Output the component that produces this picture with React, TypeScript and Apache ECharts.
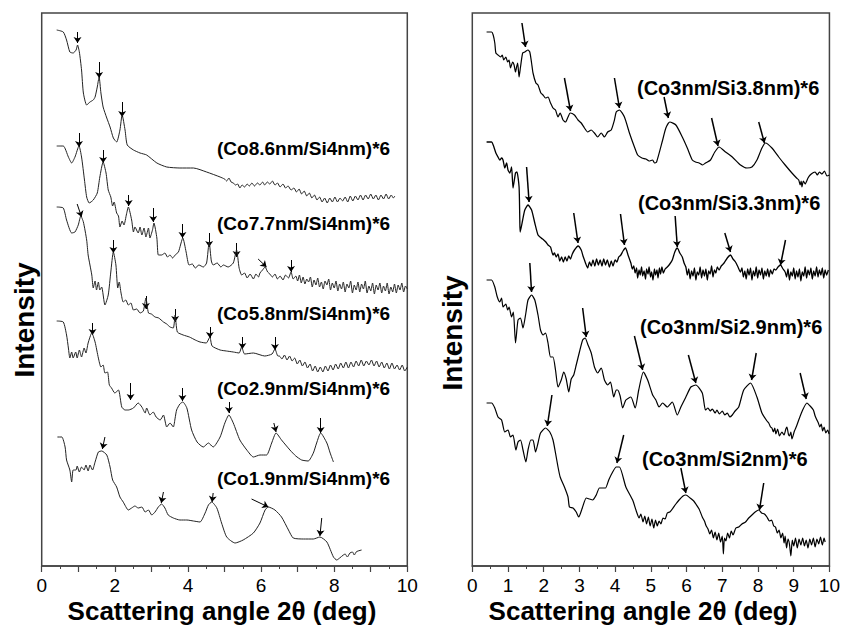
import React, { useEffect, useRef } from "react";
import * as echarts from "echarts";

const FONT = '"Liberation Sans", Arial, sans-serif';

// ---------- left panel: (CoX nm / Si4nm)*6 ----------
const leftLabels = [
  "(Co8.6nm/Si4nm)*6",
  "(Co7.7nm/Si4nm)*6",
  "(Co5.8nm/Si4nm)*6",
  "(Co2.9nm/Si4nm)*6",
  "(Co1.9nm/Si4nm)*6",
];

const co86 = [
  [0.41,536],[0.59,534],[0.68,526],[0.77,514],[0.86,513],[0.94,516],[0.98,521],[1.03,514],[1.09,496],[1.14,473],
  [1.23,461],[1.32,464],[1.41,466],[1.46,469],[1.52,479],[1.57,489],[1.62,473],[1.68,459],[1.78,448],[1.87,439],
  [1.96,428],[2.05,424],[2.14,436],[2.2,451],[2.28,436],[2.34,421],[2.51,416],[2.69,413],[2.87,411],[3.15,403],
  [3.42,399],[3.78,398],[4.15,398],[4.51,394],[4.88,389],[5.0,387],[5.06,385],[5.12,388],[5.18,384],[5.24,383],
  [5.3,381],[5.36,382],[5.42,378],[5.48,381],[5.55,379],[5.62,382],[5.68,380],[5.75,383],[5.82,380],[5.9,383],
  [5.97,381],[6.04,384],[6.1,381],[6.17,384],[6.24,382],[6.31,385],[6.38,381],[6.45,383],[6.52,379],[6.6,382],
  [6.67,378],[6.74,380],[6.82,376],[6.9,378],[6.97,374],[7.04,377],[7.11,372],[7.18,375],[7.25,370],[7.32,373],
  [7.39,368],[7.46,371],[7.53,366],[7.6,369],[7.67,364],[7.74,368],[7.81,363],[7.88,368],[7.95,364],[8.02,369],
  [8.09,364],[8.16,368],[8.23,365],[8.3,369],[8.37,364],[8.44,370],[8.51,365],[8.58,370],[8.65,366],[8.72,371],
  [8.79,366],[8.86,371],[8.93,367],[9.0,372],[9.07,367],[9.14,371],[9.21,366],[9.28,371],[9.35,367],[9.42,372],
  [9.49,367],[9.56,371],[9.62,368],[9.66,370],
];

const co77 = [
  [0.41,420],[0.59,420],[0.73,409],[0.82,403],[0.91,409],[1.02,420],[1.09,409],[1.17,386],[1.23,369],[1.3,363],
  [1.41,366],[1.52,373],[1.59,389],[1.68,404],[1.76,393],[1.82,376],[1.89,369],[1.94,360],[1.98,364],[2.05,353],
  [2.1,350],[2.14,339],[2.2,345],[2.25,341],[2.32,352],[2.37,359],[2.46,346],[2.51,334],[2.55,339],[2.64,333],
  [2.69,339],[2.74,331],[2.8,338],[2.85,329],[2.92,338],[2.96,328],[3.03,336],[3.07,343],[3.15,328],[3.19,311],
  [3.28,311],[3.37,313],[3.44,309],[3.51,311],[3.58,308],[3.65,311],[3.74,314],[3.86,328],[3.95,314],[4.03,301],
  [4.12,302],[4.2,298],[4.3,301],[4.42,299],[4.51,303],[4.58,324],[4.64,305],[4.69,301],[4.8,303],[4.9,299],
  [4.97,301],[5.1,299],[5.24,303],[5.33,316],[5.4,298],[5.47,291],[5.55,293],[5.62,288],[5.7,292],[5.79,287],
  [5.86,292],[5.93,289],[5.97,293],[6.04,296],[6.11,299],[6.18,294],[6.24,292],[6.31,289],[6.38,292],[6.45,287],
  [6.52,290],[6.6,286],[6.67,291],[6.75,288],[6.82,294],[6.88,287],[6.95,290],[7.0,285],[7.05,291],[7.1,283],
  [7.15,289],[7.2,282],[7.25,287],[7.3,284],[7.35,289],[7.4,279],[7.45,286],[7.5,281],[7.55,288],[7.6,279],
  [7.65,284],[7.7,277],[7.75,285],[7.8,281],[7.85,287],[7.9,276],[7.95,283],[8.0,278],[8.05,285],[8.1,275],
  [8.15,282],[8.2,277],[8.25,284],[8.3,274],[8.35,282],[8.4,278],[8.45,285],[8.5,273],[8.55,281],[8.6,276],
  [8.65,284],[8.7,274],[8.75,282],[8.8,277],[8.85,285],[8.9,273],[8.95,280],[9.0,275],[9.05,283],[9.1,272],
  [9.15,281],[9.2,276],[9.25,283],[9.3,273],[9.35,280],[9.4,275],[9.45,283],[9.5,272],[9.55,279],[9.6,274],
  [9.65,282],[9.7,273],[9.75,281],[9.8,276],[9.85,283],[9.9,274],[9.95,280],[10.0,277],
];

const co58 = [
  [0.41,359],[0.59,358],[0.68,346],[0.82,333],[0.91,334],[1.0,341],[1.07,350],[1.14,344],[1.23,326],[1.27,311],
  [1.32,301],[1.37,291],[1.41,278],[1.46,285],[1.5,276],[1.55,284],[1.59,276],[1.64,279],[1.73,261],[1.82,271],
  [1.89,294],[1.96,314],[2.03,301],[2.08,278],[2.12,284],[2.17,273],[2.23,264],[2.3,266],[2.37,261],[2.44,263],
  [2.51,256],[2.6,257],[2.69,253],[2.78,255],[2.85,268],[2.92,253],[3.0,252],[3.1,249],[3.2,248],[3.33,244],
  [3.42,242],[3.51,239],[3.6,238],[3.65,251],[3.71,234],[3.87,231],[4.04,229],[4.2,226],[4.33,224],[4.5,223],
  [4.6,229],[4.66,220],[4.88,216],[5.05,215],[5.24,214],[5.4,213],[5.47,219],[5.55,212],[5.79,213],[6.1,210],
  [6.3,212],[6.38,217],[6.46,210],[6.5,210],[6.57,207],[6.64,211],[6.71,206],[6.78,210],[6.85,205],[6.92,208],
  [6.99,202],[7.06,206],[7.13,200],[7.2,204],[7.27,198],[7.34,202],[7.41,195],[7.48,200],[7.55,194],[7.62,199],
  [7.69,194],[7.76,200],[7.83,195],[7.9,201],[7.97,196],[8.04,202],[8.11,197],[8.18,203],[8.25,198],[8.32,204],
  [8.39,198],[8.46,204],[8.53,199],[8.6,205],[8.67,200],[8.74,206],[8.81,200],[8.88,205],[8.95,201],[9.02,206],
  [9.09,200],[9.16,205],[9.23,199],[9.3,204],[9.37,198],[9.44,203],[9.51,197],[9.58,203],[9.65,197],[9.72,201],
  [9.79,196],[9.86,201],[9.93,195],[10.0,199],
];

const co29 = [
  [0.41,245],[0.59,244],[0.68,231],[0.73,218],[0.77,208],[0.82,214],[0.86,208],[0.93,214],[0.97,208],[1.03,216],
  [1.09,209],[1.16,218],[1.21,213],[1.27,223],[1.37,233],[1.46,224],[1.55,208],[1.62,199],[1.68,201],[1.73,193],
  [1.8,194],[1.85,181],[1.91,178],[2.0,173],[2.1,176],[2.19,159],[2.28,156],[2.37,156],[2.51,158],[2.64,163],
  [2.74,159],[2.83,153],[2.87,158],[2.96,151],[3.05,154],[3.13,149],[3.24,146],[3.33,151],[3.42,139],[3.51,143],
  [3.6,139],[3.65,148],[3.69,156],[3.78,162],[3.86,164],[3.97,158],[4.1,136],[4.25,124],[4.42,119],[4.56,123],
  [4.69,119],[4.88,129],[5.01,143],[5.12,151],[5.24,143],[5.42,126],[5.61,116],[5.79,109],[5.97,111],[6.15,111],
  [6.29,123],[6.41,133],[6.56,126],[6.79,116],[6.95,110],[7.11,106],[7.29,105],[7.43,113],[7.52,123],[7.63,133],
  [7.8,123],[7.89,113],[7.98,104],
];

const co19 = [
  [0.43,129],[0.55,129],[0.64,119],[0.68,106],[0.77,96],[0.82,84],[0.86,96],[0.94,96],[0.97,100],[1.03,94],
  [1.09,99],[1.16,96],[1.21,101],[1.27,95],[1.32,101],[1.39,96],[1.46,104],[1.55,114],[1.64,115],[1.78,111],
  [1.87,99],[1.94,86],[2.05,79],[2.14,69],[2.23,64],[2.37,56],[2.46,58],[2.55,60],[2.64,58],[2.74,59],
  [2.83,54],[2.92,56],[3.01,51],[3.1,54],[3.19,59],[3.28,62],[3.37,58],[3.46,51],[3.6,48],[3.78,46],
  [3.97,46],[4.15,45],[4.33,44],[4.47,53],[4.56,61],[4.65,64],[4.79,58],[4.92,43],[5.06,29],[5.29,23],
  [5.51,26],[5.79,33],[5.97,43],[6.11,56],[6.2,59],[6.38,56],[6.56,49],[6.75,36],[6.88,28],[7.16,27],
  [7.43,27],[7.61,29],[7.8,24],[7.98,9],[8.07,6],[8.15,8],[8.25,11],[8.3,12],[8.36,9],[8.43,13],
  [8.5,14],[8.55,11],[8.6,14],[8.65,15],[8.75,16],
];

// arrows: [xTail, yTail, xTip, yTip]
const leftArrows = [
  [0.98,534,0.98,523],[1.57,504,1.57,488],[2.2,464,2.2,449],
  [1.02,433,1.02,419],[1.68,416,1.68,403],[2.38,371,2.38,360],[3.05,358,3.05,344],[3.85,342,3.85,328],
  [4.58,333,4.58,319],[5.33,323,5.33,309],[5.92,307,6.15,299],[6.82,306,6.82,294],
  [0.97,362,1.09,349],[1.96,326,1.96,313],[2.85,270,2.85,257],[3.65,257,3.65,244],[4.6,239,4.6,228],
  [5.49,229,5.49,217],[6.38,229,6.38,216],
  [1.39,243,1.39,231],[2.43,183,2.43,166],[3.85,178,3.85,165],[5.12,164,5.12,153],[6.35,143,6.41,134],
  [7.63,148,7.63,133],
  [1.73,129,1.66,117],[3.33,74,3.27,63],[4.69,73,4.66,64],[5.74,67,6.2,59],[7.66,48,7.61,30],
];

// ---------- right panel: (Co3nm / SiX nm)*6 ----------
const rightLabels = [
  "(Co3nm/Si3.8nm)*6",
  "(Co3nm/Si3.3nm)*6",
  "(Co3nm/Si2.9nm)*6",
  "(Co3nm/Si2nm)*6",
];

const si38 = [
  [0.4,534],[0.54,534],[0.585,531],[0.63,523],[0.66,513],[0.72,511],[0.79,509],[0.84,511],[0.88,506],[0.94,509],
  [0.99,504],[1.03,506],[1.07,498],[1.13,504],[1.17,501],[1.21,494],[1.24,499],[1.27,503],[1.31,489],[1.35,499],
  [1.41,513],[1.47,514],[1.56,516],[1.61,514],[1.66,503],[1.7,493],[1.78,483],[1.84,481],[1.92,473],[1.98,471],
  [2.05,468],[2.12,469],[2.19,463],[2.26,458],[2.33,456],[2.4,449],[2.46,453],[2.54,446],[2.61,444],[2.68,449],
  [2.74,453],[2.86,451],[2.96,446],[3.05,443],[3.14,438],[3.23,434],[3.33,436],[3.42,433],[3.51,429],[3.61,433],
  [3.7,429],[3.79,434],[3.89,436],[3.98,446],[4.03,454],[4.12,456],[4.26,449],[4.4,433],[4.54,419],[4.63,411],
  [4.75,408],[4.86,407],[4.95,405],[5.05,406],[5.1,403],[5.16,404],[5.33,426],[5.42,438],[5.53,444],[5.7,441],
  [5.88,429],[6.02,418],[6.16,406],[6.25,404],[6.35,403],[6.45,401],[6.53,403],[6.67,406],[6.79,414],[6.91,419],
  [7.09,414],[7.28,409],[7.51,401],[7.69,398],[7.83,399],[7.97,406],[8.11,418],[8.21,423],[8.39,418],[8.58,409],
  [8.76,401],[8.95,393],[9.08,388],[9.14,386],[9.18,381],[9.21,385],[9.23,379],[9.27,385],[9.32,382],[9.4,388],
  [9.46,391],[9.53,393],[9.6,394],[9.66,391],[9.72,394],[9.79,392],[9.86,395],[9.93,390],[10.0,391],
];

const si33 = [
  [0.4,424],[0.54,424],[0.585,421],[0.66,413],[0.72,409],[0.77,406],[0.82,408],[0.86,406],[0.91,398],[0.96,403],
  [1.0,396],[1.05,393],[1.1,399],[1.14,378],[1.21,393],[1.25,394],[1.31,379],[1.33,346],[1.34,334],[1.41,346],
  [1.47,356],[1.56,361],[1.66,356],[1.75,343],[1.84,331],[1.93,328],[2.0,326],[2.06,324],[2.12,321],[2.19,319],
  [2.26,311],[2.3,313],[2.35,309],[2.4,312],[2.45,305],[2.5,309],[2.55,304],[2.6,309],[2.65,305],[2.7,310],
  [2.75,307],[2.8,312],[2.86,316],[2.96,320],[3.05,316],[3.1,310],[3.14,306],[3.18,302],[3.23,298],[3.28,304],
  [3.33,300],[3.38,306],[3.43,300],[3.48,307],[3.53,301],[3.58,306],[3.63,300],[3.68,307],[3.73,301],[3.78,306],
  [3.84,299],[3.89,305],[3.94,300],[4.0,306],[4.05,304],[4.1,309],[4.16,311],[4.22,315],[4.29,318],[4.36,311],
  [4.44,303],[4.48,297],[4.52,300],[4.56,293],[4.6,298],[4.63,288],[4.67,296],[4.7,291],[4.74,299],[4.77,290],
  [4.81,295],[4.85,287],[4.88,297],[4.92,292],[4.95,299],[4.99,289],[5.02,294],[5.06,286],[5.1,297],[5.13,291],
  [5.17,296],[5.2,288],[5.24,298],[5.27,292],[5.31,299],[5.35,293],[5.4,297],[5.46,299],[5.53,302],[5.6,306],
  [5.67,314],[5.74,318],[5.81,313],[5.88,309],[5.93,303],[5.98,299],[6.02,291],[6.06,297],[6.1,287],[6.14,295],
  [6.18,290],[6.22,298],[6.26,286],[6.3,294],[6.34,291],[6.38,299],[6.42,288],[6.46,296],[6.5,290],[6.54,297],
  [6.58,286],[6.62,295],[6.66,292],[6.7,300],[6.74,289],[6.78,296],[6.82,293],[6.86,299],[6.91,296],[6.97,300],
  [7.05,303],[7.14,308],[7.23,311],[7.3,307],[7.37,304],[7.44,299],[7.51,294],[7.55,298],[7.59,289],[7.63,295],
  [7.67,287],[7.71,297],[7.75,291],[7.79,298],[7.83,286],[7.87,295],[7.91,290],[7.95,299],[7.99,288],[8.03,296],
  [8.07,291],[8.11,298],[8.15,287],[8.19,295],[8.23,290],[8.27,297],[8.31,289],[8.35,296],[8.4,292],[8.45,297],
  [8.5,296],[8.56,299],[8.63,301],[8.7,297],[8.76,294],[8.8,289],[8.84,297],[8.88,286],[8.92,294],[8.96,290],
  [9.0,298],[9.04,287],[9.08,295],[9.12,289],[9.16,297],[9.2,285],[9.24,294],[9.28,290],[9.32,299],[9.36,288],
  [9.4,296],[9.44,291],[9.48,298],[9.52,287],[9.56,295],[9.6,290],[9.64,299],[9.68,289],[9.72,296],[9.76,291],
  [9.8,298],[9.84,288],[9.88,296],[9.92,291],[9.97,296],
];

const si29 = [
  [0.4,286],[0.54,286],[0.63,279],[0.7,269],[0.77,264],[0.82,268],[0.86,259],[0.94,262],[0.99,256],[1.03,259],
  [1.1,249],[1.15,254],[1.21,223],[1.28,246],[1.35,248],[1.42,238],[1.5,253],[1.56,266],[1.66,271],[1.75,266],
  [1.84,251],[1.91,236],[1.98,231],[2.05,233],[2.12,223],[2.19,209],[2.26,209],[2.33,196],[2.4,179],[2.49,186],
  [2.56,194],[2.63,187],[2.7,174],[2.77,187],[2.84,191],[2.91,201],[3.0,214],[3.09,226],[3.16,228],[3.23,222],
  [3.33,213],[3.42,199],[3.51,193],[3.61,198],[3.7,186],[3.79,181],[3.87,184],[3.96,169],[4.03,176],[4.07,176],
  [4.14,170],[4.21,158],[4.3,166],[4.44,169],[4.56,158],[4.66,176],[4.79,194],[4.91,186],[5.05,171],[5.14,166],
  [5.23,159],[5.33,163],[5.46,159],[5.6,164],[5.74,151],[5.84,159],[5.98,169],[6.12,179],[6.26,181],[6.44,173],
  [6.53,156],[6.6,158],[6.66,155],[6.72,157],[6.8,153],[6.85,156],[6.92,152],[7.0,155],[7.07,151],[7.14,153],
  [7.21,149],[7.28,151],[7.36,155],[7.46,159],[7.6,176],[7.79,183],[7.97,169],[8.11,153],[8.25,145],[8.3,143],
  [8.35,139],[8.39,138],[8.43,134],[8.47,138],[8.5,132],[8.55,137],[8.6,130],[8.67,134],[8.73,131],[8.78,137],
  [8.81,139],[8.85,132],[8.88,130],[8.92,134],[8.95,127],[9.02,135],[9.08,140],[9.14,146],[9.25,156],[9.37,163],
  [9.46,160],[9.55,156],[9.6,150],[9.65,146],[9.69,143],[9.73,139],[9.77,142],[9.81,135],[9.85,139],[9.9,133],
  [9.95,136],[9.99,132],
];

const si20 = [
  [0.4,163],[0.54,163],[0.63,158],[0.72,149],[0.82,146],[0.91,134],[1.0,136],[1.07,129],[1.14,131],[1.22,116],
  [1.28,124],[1.35,126],[1.42,116],[1.5,104],[1.56,116],[1.64,126],[1.7,126],[1.77,114],[1.84,123],[1.91,133],
  [2.05,138],[2.17,134],[2.26,126],[2.33,113],[2.4,99],[2.46,89],[2.58,79],[2.68,69],[2.72,59],[2.82,58],
  [2.91,54],[2.98,49],[3.08,58],[3.19,68],[3.28,67],[3.37,66],[3.47,71],[3.56,78],[3.65,78],[3.73,78],
  [3.82,86],[3.93,94],[4.03,99],[4.12,99],[4.3,79],[4.49,66],[4.6,54],[4.67,48],[4.72,52],[4.78,44],
  [4.83,50],[4.88,42],[4.93,49],[4.98,40],[5.03,47],[5.08,38],[5.13,46],[5.18,40],[5.23,45],[5.28,42],
  [5.34,48],[5.4,47],[5.46,53],[5.53,54],[5.6,57],[5.7,62],[5.79,66],[5.9,70],[5.98,71],[6.1,68],
  [6.2,65],[6.26,62],[6.35,57],[6.44,49],[6.5,45],[6.55,40],[6.6,37],[6.65,32],[6.7,36],[6.75,28],
  [6.8,34],[6.85,26],[6.9,33],[6.95,24],[7.0,30],[7.03,12],[7.06,28],[7.1,25],[7.15,33],[7.2,28],
  [7.25,35],[7.3,31],[7.38,38],[7.46,39],[7.55,42],[7.65,44],[7.74,48],[7.83,51],[7.92,54],[8.02,56],
  [8.1,53],[8.18,52],[8.25,49],[8.32,45],[8.38,46],[8.44,40],[8.49,39],[8.54,33],[8.59,36],[8.64,28],
  [8.69,33],[8.73,23],[8.76,30],[8.8,18],[8.84,27],[8.88,22],[8.92,10],[8.96,26],[9.0,20],[9.05,28],
  [9.1,18],[9.15,27],[9.2,21],[9.25,28],[9.3,20],[9.35,26],[9.4,18],[9.45,27],[9.5,21],[9.55,28],
  [9.6,19],[9.65,27],[9.7,22],[9.75,29],[9.8,21],[9.85,28],[9.88,24],
];

const rightArrows = [
  [1.39,543,1.49,519],[2.58,488,2.75,455],[3.98,488,4.12,458],[5.37,469,5.49,448],[6.7,448,6.88,420],[8.02,444,8.18,423],
  [1.52,399,1.59,364],[2.84,353,2.96,323],[4.15,352,4.26,321],[5.68,350,5.74,319],[7.07,333,7.23,314],[8.77,326,8.63,301],
  [1.61,303,1.66,274],[3.09,258,3.19,229],[4.54,230,4.77,196],[6.05,211,6.26,183],[7.95,213,7.82,186],[9.18,193,9.35,167],
  [2.23,171,2.1,140],[4.24,131,4.05,103],[5.84,98,5.98,73],[8.16,83,8.04,56],
];

// positions of the curve labels (pixels) - layout only
const leftLabelPos = [[217,148],[217,223],[217,313],[217,388],[217,478]];
const rightLabelPos = [[637,88],[638,203],[640,327],[642,459]];

export default function App() {
  const ref = useRef<HTMLDivElement>(null);
  useEffect(() => {
    if (!ref.current) return;
    const chart = echarts.init(ref.current, null, { renderer: "svg" });
    const axisColor = "#444";
    const makeX = (gridIndex: number, every: number) => ({
      gridIndex,
      type: "value",
      min: 0,
      max: 10,
      interval: 1,
      axisLine: { show: true, onZero: false, lineStyle: { color: axisColor, width: 1.5 } },
      axisTick: { show: true, length: 6, lineStyle: { color: axisColor, width: 1.2 } },
      minorTick: { show: true, splitNumber: 2, length: 3, lineStyle: { color: axisColor, width: 1 } },
      splitLine: { show: false },
      minorSplitLine: { show: false },
      axisLabel: {
        fontSize: 19,
        color: "#000",
        fontFamily: FONT,
        margin: 10,
        formatter: (v: number) => (v % every === 0 ? String(v) : ""),
      },
    });
    const makeY = (gridIndex: number) => ({
      gridIndex,
      type: "value",
      min: 0,
      max: 553,
      show: false,
    });
    const curve = (data: number[][], idx: number, color: string, width: number) => ({
      type: "line",
      xAxisIndex: idx,
      yAxisIndex: idx,
      data,
      showSymbol: false,
      symbol: "none",
      smooth: 0.2,
      lineStyle: { color, width },
      silent: true,
    });
    const arrows = (list: number[][], idx: number, width: number, size: number) => ({
      type: "lines",
      coordinateSystem: "cartesian2d",
      xAxisIndex: idx,
      yAxisIndex: idx,
      symbol: ["none", "arrow"],
      symbolSize: size,
      lineStyle: { color: "#000", width, opacity: 1, curveness: 0 },
      data: list.map((a) => ({ coords: [[a[0], a[1]], [a[2], a[3]]] })),
      silent: true,
    });
    const labelText = (text: string, pos: number[], size: number) => ({
      type: "text",
      x: pos[0],
      y: pos[1],
      style: {
        text,
        fill: "#000",
        font: `bold ${size}px ${FONT}`,
        textAlign: "left",
        textVerticalAlign: "middle",
      },
    });
    const option = {
      animation: false,
      backgroundColor: "#fff",
      grid: [
        { left: 41.7, top: 13, width: 365.6, height: 553, show: true, borderColor: axisColor, borderWidth: 1.5, backgroundColor: "transparent" },
        { left: 472.3, top: 13, width: 358.7, height: 553, show: true, borderColor: axisColor, borderWidth: 1.5, backgroundColor: "transparent" },
      ],
      xAxis: [makeX(0, 2), makeX(1, 1)],
      yAxis: [makeY(0), makeY(1)],
      series: [
        curve(co86, 0, "#222", 1),
        curve(co77, 0, "#222", 1),
        curve(co58, 0, "#222", 1),
        curve(co29, 0, "#222", 1),
        curve(co19, 0, "#222", 1),
        curve(si38, 1, "#000", 1.2),
        curve(si33, 1, "#000", 1.3),
        curve(si29, 1, "#000", 1.2),
        curve(si20, 1, "#000", 1.2),
        arrows(leftArrows, 0, 1, 6),
        arrows(rightArrows, 1, 1.5, 6),
      ],
      graphic: [
        ...leftLabels.map((t, i) => labelText(t, leftLabelPos[i], 19)),
        ...rightLabels.map((t, i) => labelText(t, rightLabelPos[i], 20)),
        {
          type: "text", x: 24, y: 320, rotation: Math.PI / 2,
          style: { text: "Intensity", fill: "#000", font: `bold 28px ${FONT}`, textAlign: "center", textVerticalAlign: "middle" },
        },
        {
          type: "text", x: 452, y: 333, rotation: Math.PI / 2,
          style: { text: "Intensity", fill: "#000", font: `bold 28px ${FONT}`, textAlign: "center", textVerticalAlign: "middle" },
        },
        {
          type: "text", x: 222, y: 611,
          style: { text: "Scattering angle 2θ (deg)", fill: "#000", font: `bold 26px ${FONT}`, textAlign: "center", textVerticalAlign: "middle" },
        },
        {
          type: "text", x: 643, y: 611,
          style: { text: "Scattering angle 2θ (deg)", fill: "#000", font: `bold 26px ${FONT}`, textAlign: "center", textVerticalAlign: "middle" },
        },
      ],
    };
    chart.setOption(option as any);
    return () => chart.dispose();
  }, []);
  return (
    <div
      ref={ref}
      style={{ position: "fixed", left: 0, top: 0, width: 843, height: 627, background: "#fff" }}
    />
  );
}
